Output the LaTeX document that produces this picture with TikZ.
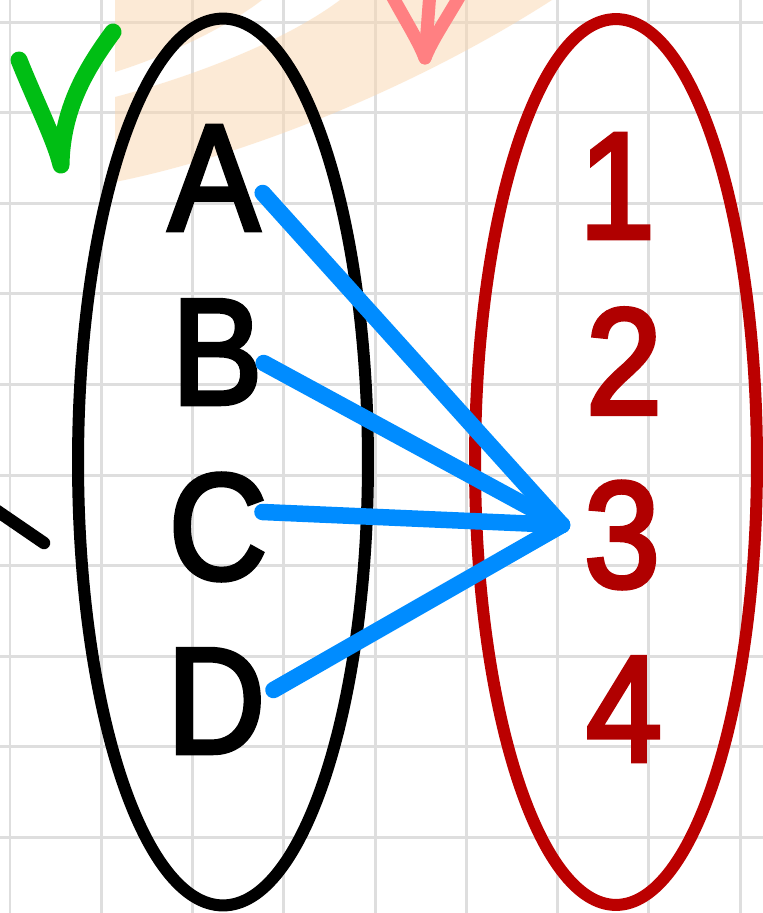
\documentclass[tikz,border=0pt]{standalone}
\usepackage{fontspec}
\newfontfamily\markfont{Liberation Sans}[FakeBold=3, FakeStretch=0.9]
\definecolor{numred}{RGB}{176,0,0}
\definecolor{setred}{RGB}{187,0,0}
\definecolor{mapblue}{RGB}{0,140,255}
\definecolor{tickgreen}{RGB}{0,190,20}
\definecolor{arrowpink}{RGB}{255,128,130}
\definecolor{orangewash}{RGB}{251,215,175}
\definecolor{gridgray}{RGB}{222,222,222}
\begin{document}
\begin{tikzpicture}[x=0.02cm, y=-0.02cm,
    gridline/.style={line width=0.06cm, gridgray},
    washfill/.style={fill=orangewash, fill opacity=0.5},
    penline/.style={line cap=round, line join=round},
    letterlbl/.style={font=\markfont\fontsize{86}{86}\selectfont, inner sep=0pt, text=black},
    numlbl/.style={font=\markfont\fontsize{86}{86}\selectfont, inner sep=0pt, text=numred},
    maparr/.style={penline, line width=0.33cm, mapblue},
    setring/.style={line width=0.24cm}]
  \useasboundingbox (0,0) rectangle (763,913);
  \clip (0,0) rectangle (763,913);
  \fill[white] (0,0) rectangle (763,913);
  \foreach \gx in {0,...,8} \draw[gridline] (10+91.25*\gx,0) -- (10+91.25*\gx,913);
  \foreach \gy in {0,...,9} \draw[gridline] (0,22+90.6*\gy) -- (763,22+90.6*\gy);
  \fill[washfill] (115,0) -- (115,72) .. controls (170,55) and (230,25) .. (262,0) -- cycle;
  \fill[washfill] (115,97) .. controls (180,80) and (280,45) .. (340,0) -- (552,0)
    .. controls (420,85) and (250,155) .. (115,182) -- cycle;
  \draw[penline, tickgreen, line width=0.34cm] (19,60) .. controls (35,100) and (55,140) .. (61,165)
    .. controls (62,110) and (85,70) .. (113,32);
  \draw[penline, arrowpink, line width=0.26cm] (390,-8) .. controls (405,20) and (418,40) .. (425,58)
    .. controls (432,40) and (446,20) .. (462,-8);
  \draw[penline, arrowpink, line width=0.26cm] (430,-8) -- (425,58);
  \draw[penline, black, line width=0.25cm] (-10,506) -- (44,543);
  \draw[setring, black] (223,462) ellipse [x radius=2.9cm, y radius=8.87cm];
  \draw[setring, setred] (616,462) ellipse [x radius=2.82cm, y radius=8.86cm];
  \node[letterlbl] (la) at (214,178) {A};
  \node[letterlbl] (lb) at (217,352) {B};
  \node[letterlbl] (lc) at (218,527) {C};
  \node[letterlbl] (ld) at (216,701) {D};
  \node[numlbl] (n1) at (617,186) {1};
  \node[numlbl] (n2) at (624,361) {2};
  \node[numlbl] (n3) at (622,535) {3};
  \node[numlbl] (n4) at (624,709) {4};
  \coordinate (hub) at (562,525);
  \foreach \s/\dx/\dy in {la/3/15, lb/1/11, lc/-5/-15, ld/8/-11}
    \draw[maparr] ([shift={(\dx,\dy)}]\s.east) -- (hub);
\end{tikzpicture}
\end{document}
